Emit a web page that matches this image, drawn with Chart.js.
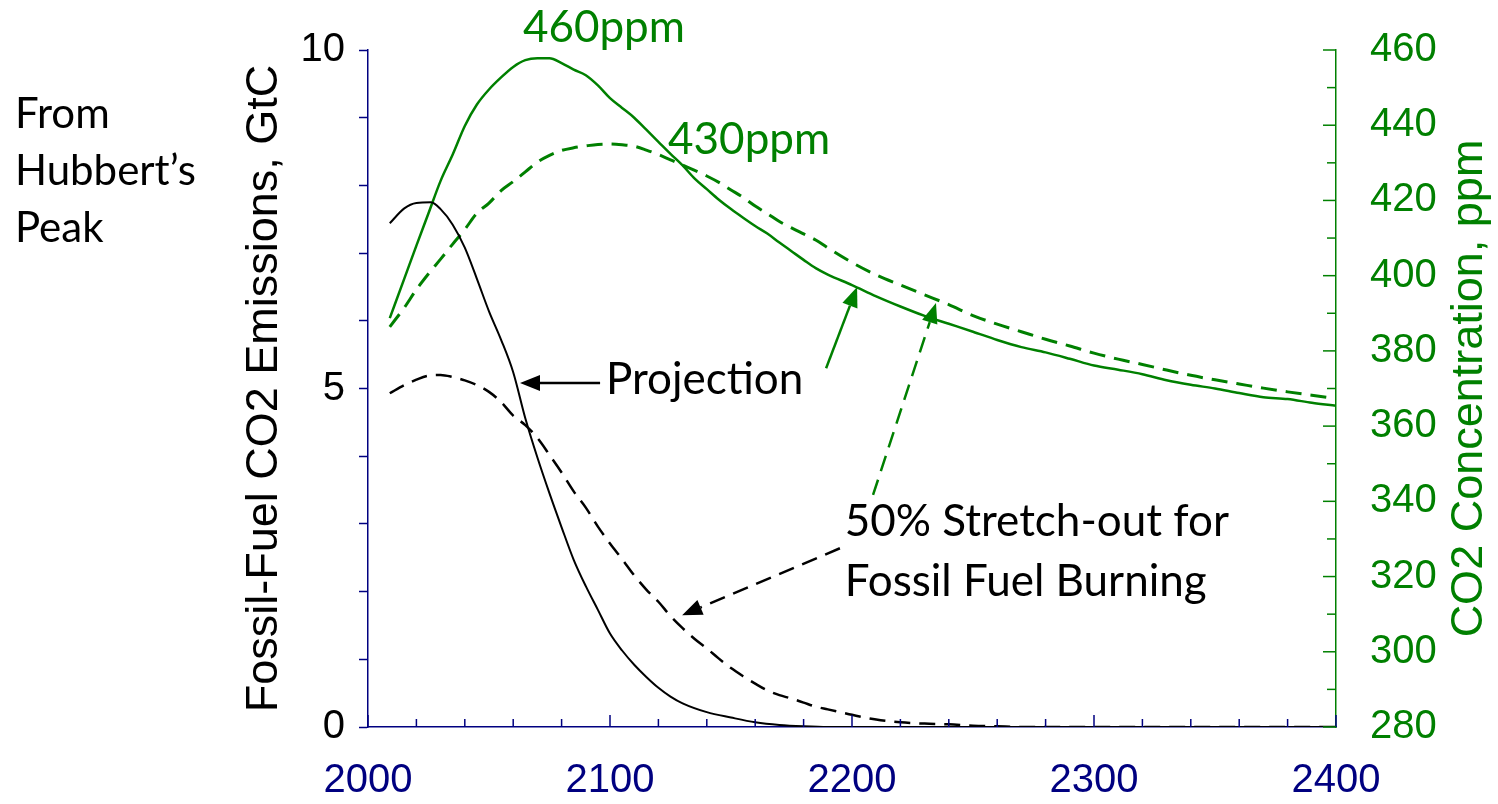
<!DOCTYPE html>
<html>
<head>
<meta charset="utf-8">
<script src="https://cdn.jsdelivr.net/npm/chart.js@4"></script>
<style>
  html, body { margin: 0; background: #fff; }
</style>
</head>
<body>
<canvas id="chart" width="1498" height="804"></canvas>
<script>
// fossil fuel emissions, GtC
const projYears = [2009, 2015, 2020, 2026, 2030, 2035, 2040, 2045, 2050, 2055, 2060, 2065, 2070, 2075, 2080, 2085, 2090, 2095, 2100, 2105, 2110, 2115, 2120, 2125, 2130, 2140, 2150, 2160, 2170, 2180, 2190, 2400];
const projEmissions = [7.44, 7.66, 7.74, 7.75, 7.65, 7.42, 7.08, 6.62, 6.14, 5.72, 5.24, 4.56, 3.98, 3.45, 2.95, 2.47, 2.08, 1.73, 1.38, 1.13, 0.92, 0.74, 0.58, 0.45, 0.35, 0.22, 0.14, 0.07, 0.03, 0.01, 0, 0];

const stretchYears = [2009, 2015, 2020, 2025, 2030, 2035, 2040, 2045, 2050, 2055, 2060, 2065, 2070, 2075, 2080, 2085, 2090, 2095, 2100, 2105, 2110, 2115, 2120, 2125, 2130, 2135, 2140, 2145, 2150, 2155, 2160, 2165, 2170, 2175, 2180, 2185, 2190, 2195, 2200, 2210, 2220, 2230, 2240, 2250, 2260, 2270, 2400];
const stretchEmissions = [4.93, 5.05, 5.13, 5.19, 5.20, 5.17, 5.12, 5.05, 4.95, 4.80, 4.60, 4.46, 4.27, 4.02, 3.76, 3.48, 3.24, 2.96, 2.71, 2.48, 2.24, 2.03, 1.85, 1.64, 1.46, 1.30, 1.16, 1.01, 0.87, 0.75, 0.64, 0.54, 0.47, 0.42, 0.36, 0.30, 0.26, 0.22, 0.18, 0.11, 0.07, 0.05, 0.04, 0.02, 0.01, 0, 0];

// CO2 concentration, ppm
const co2Years = [2009, 2015, 2020, 2025, 2030, 2035, 2040, 2045, 2050, 2055, 2060, 2065, 2070, 2075, 2080, 2085, 2090, 2095, 2100, 2105, 2110, 2115, 2120, 2125, 2130, 2135, 2140, 2145, 2150, 2155, 2160, 2165, 2170, 2175, 2180, 2185, 2190, 2200, 2210, 2220, 2230, 2240, 2250, 2260, 2270, 2280, 2290, 2300, 2310, 2320, 2330, 2340, 2350, 2360, 2370, 2380, 2390, 2400];
const co2Projection = [388.7, 399.2, 408, 416.6, 425.2, 432.2, 439.8, 445.5, 449.5, 452.7, 455.5, 457.3, 457.8, 457.8, 456.5, 454.8, 453.3, 450.6, 447.2, 444.6, 442, 438.8, 435.6, 432.4, 429.3, 425.8, 423, 420.2, 417.7, 415.4, 413.2, 411.2, 408.8, 406.5, 404.2, 402, 400.3, 397.5, 394.5, 391.8, 389.3, 387.2, 385.1, 382.9, 381, 379.6, 377.9, 376.1, 375, 373.8, 372.2, 371, 370, 368.8, 367.7, 367.2, 366.2, 365.4];
const co2Stretch = [386.4, 391.5, 396.3, 400.5, 404.4, 408.4, 412.3, 416.6, 419.3, 422.6, 425, 427.6, 430.2, 432, 433.3, 434, 434.5, 434.9, 435, 434.8, 434.4, 433.4, 432.2, 430.8, 429.4, 428, 426.5, 424.8, 422.8, 420.8, 418.5, 416.5, 414.4, 412.7, 411.1, 409.5, 407.4, 403.5, 400.2, 397.5, 394.9, 392.3, 389.4, 387.1, 385.1, 383.1, 381.3, 379.4, 377.8, 376.4, 374.9, 373.5, 372.3, 371.2, 370.1, 369.1, 368.2, 367.3];

const GREEN = "#008000";
const NAVY = "#000080";
const AXIS_FONT = "Liberation Sans";
const NOTE_FONT = "Lato";

const pts = (xs, ys) => xs.map((x, i) => ({ x: x, y: ys[i] }));

// text notes and arrows, positioned in data units
const notes = [
  { text: "460ppm", x: 2064, y: 466, axis: "y2", color: GREEN },
  { text: "430ppm", x: 2124, y: 436, axis: "y2", color: GREEN },
  { text: "Projection", x: 2098.3, y: 5.13, axis: "y", color: "#000" },
  { text: "50% Stretch-out for", x: 2197, y: 3.03, axis: "y", color: "#000" },
  { text: "Fossil Fuel Burning", x: 2197, y: 2.14, axis: "y", color: "#000" }
];
const arrows = [
  { from: [2095.9, 5.08], to: [2062.8, 5.08], axis: "y", color: "#000", dash: [] },
  { from: [2195, 2.64], to: [2129.8, 1.65], axis: "y", color: "#000", dash: [16, 9] },
  { from: [2189.3, 375.4], to: [2202.1, 397], axis: "y2", color: GREEN, dash: [] },
  { from: [2208.7, 341.7], to: [2234.7, 392.7], axis: "y2", color: GREEN, dash: [16, 9] }
];

function drawArrow(ctx, x1, y1, x2, y2, color, dash) {
  const ang = Math.atan2(y2 - y1, x2 - x1);
  const head = 20, half = 8;
  const bx = x2 - head * Math.cos(ang), by = y2 - head * Math.sin(ang);
  ctx.strokeStyle = color;
  ctx.fillStyle = color;
  ctx.lineWidth = 2.5;
  ctx.setLineDash(dash);
  ctx.beginPath();
  ctx.moveTo(x1, y1);
  ctx.lineTo(bx, by);
  ctx.stroke();
  ctx.setLineDash([]);
  ctx.beginPath();
  ctx.moveTo(x2, y2);
  ctx.lineTo(bx + half * Math.sin(ang), by - half * Math.cos(ang));
  ctx.lineTo(bx - half * Math.sin(ang), by + half * Math.cos(ang));
  ctx.closePath();
  ctx.fill();
}

// fixed axis boxes so the plot area sits where the original has it
function fixWidth(w) {
  return s => {
    s.width = w;
    s.paddingTop = 0;
    s.paddingBottom = 0;
  };
}

const extras = {
  id: "extras",
  afterDraw(chart) {
    const ctx = chart.ctx;
    const { x, y2 } = chart.scales;
    const area = chart.chartArea;
    ctx.save();

    // inward tick marks on bottom and right axes
    ctx.lineWidth = 1.5;
    ctx.strokeStyle = NAVY;
    x.ticks.forEach(t => {
      const px = x.getPixelForValue(t.value);
      const len = t.value % 100 === 0 ? 12 : 8;
      ctx.beginPath();
      ctx.moveTo(px, area.bottom);
      ctx.lineTo(px, area.bottom - len);
      ctx.stroke();
    });
    ctx.strokeStyle = GREEN;
    y2.ticks.forEach(t => {
      const py = y2.getPixelForValue(t.value);
      const len = t.value % 20 === 0 ? 13 : 9;
      ctx.beginPath();
      ctx.moveTo(area.right, py);
      ctx.lineTo(area.right - len, py);
      ctx.stroke();
    });

    // right axis title, reading bottom to top
    ctx.save();
    ctx.translate(chart.width - 28, (area.top + area.bottom) / 2);
    ctx.rotate(-Math.PI / 2);
    ctx.fillStyle = GREEN;
    ctx.font = "45px '" + AXIS_FONT + "'";
    ctx.textAlign = "center";
    ctx.textBaseline = "middle";
    ctx.fillText("CO2 Concentration, ppm", 0, 0);
    ctx.restore();

    // side note
    ctx.fillStyle = "#000";
    ctx.font = "42px " + NOTE_FONT;
    ctx.textAlign = "left";
    ctx.textBaseline = "alphabetic";
    ["From", "Hubbert\u2019s", "Peak"].forEach((line, i) => {
      ctx.fillText(line, 15, area.top + 78 + i * 57);
    });

    ctx.font = "44px " + NOTE_FONT;
    ctx.textBaseline = "middle";
    notes.forEach(n => {
      ctx.fillStyle = n.color;
      ctx.fillText(n.text, x.getPixelForValue(n.x), chart.scales[n.axis].getPixelForValue(n.y));
    });

    arrows.forEach(a => {
      const s = chart.scales[a.axis];
      drawArrow(ctx,
        x.getPixelForValue(a.from[0]), s.getPixelForValue(a.from[1]),
        x.getPixelForValue(a.to[0]), s.getPixelForValue(a.to[1]),
        a.color, a.dash);
    });
    ctx.restore();
  }
};

new Chart(document.getElementById("chart"), {
  type: "line",
  data: {
    datasets: [
      {
        data: pts(projYears, projEmissions),
        yAxisID: "y",
        borderColor: "#000",
        borderWidth: 2
      },
      {
        data: pts(stretchYears, stretchEmissions),
        yAxisID: "y",
        borderColor: "#000",
        borderWidth: 2.5,
        borderDash: [16, 9]
      },
      {
        data: pts(co2Years, co2Projection),
        yAxisID: "y2",
        borderColor: GREEN,
        borderWidth: 2.5
      },
      {
        data: pts(co2Years, co2Stretch),
        yAxisID: "y2",
        borderColor: GREEN,
        borderWidth: 3,
        borderDash: [16, 9]
      }
    ]
  },
  options: {
    responsive: false,
    animation: false,
    layout: { padding: { top: 50, left: 0, right: 0, bottom: 0 } },
    elements: {
      point: { radius: 0 },
      line: { cubicInterpolationMode: "monotone", fill: false }
    },
    plugins: {
      legend: { display: false },
      tooltip: { enabled: false }
    },
    scales: {
      x: {
        type: "linear",
        min: 2000,
        max: 2400,
        border: { color: NAVY, width: 1.5 },
        grid: { drawOnChartArea: false, drawTicks: false },
        ticks: {
          stepSize: 20,
          autoSkip: false,
          maxRotation: 0,
          color: NAVY,
          padding: 30,
          font: { family: AXIS_FONT, size: 40 },
          callback: v => (v % 100 === 0 ? String(v) : "")
        },
        afterFit: s => {
          s.height = 77;
          s.paddingLeft = 0;
          s.paddingRight = 0;
        }
      },
      y: {
        position: "left",
        min: 0,
        max: 10,
        border: { color: NAVY, width: 1.5 },
        grid: { drawOnChartArea: false, tickColor: NAVY, tickLength: 9, tickWidth: 1.5 },
        ticks: {
          stepSize: 1,
          autoSkip: false,
          color: "#000",
          padding: 14,
          font: { family: AXIS_FONT, size: 40 },
          callback: v => (v % 5 === 0 ? String(v) : "")
        },
        title: {
          display: true,
          text: "Fossil-Fuel CO2 Emissions, GtC",
          color: "#000",
          font: { family: AXIS_FONT, size: 45 },
          padding: { top: 238, bottom: 0 }
        },
        afterFit: fixWidth(368)
      },
      y2: {
        position: "right",
        min: 280,
        max: 460,
        border: { color: GREEN, width: 1.5 },
        grid: { drawOnChartArea: false, drawTicks: false },
        ticks: {
          stepSize: 10,
          autoSkip: false,
          color: GREEN,
          padding: 34,
          font: { family: AXIS_FONT, size: 40 },
          callback: v => (v % 20 === 0 ? String(v) : "")
        },
        afterFit: fixWidth(162)
      }
    }
  },
  plugins: [extras]
});
</script>
</body>
</html>
